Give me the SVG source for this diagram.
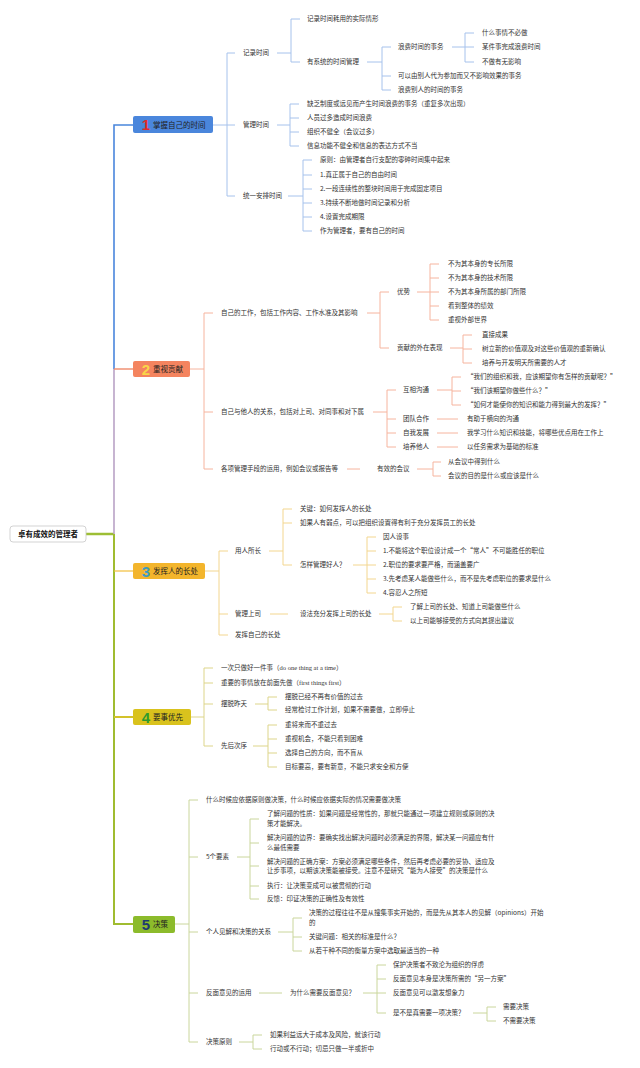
<svg xmlns="http://www.w3.org/2000/svg" width="640" height="1068" viewBox="0 0 640 1068">
<style>
.t{font-family:"Noto Sans CJK SC","Noto Sans",sans-serif;font-size:6.5px;fill:#333}
.bx{font-family:"Noto Sans CJK SC","Noto Sans",sans-serif;font-size:7.5px;fill:#222}
.rt{font-family:"Noto Sans CJK SC","Noto Sans",sans-serif;font-size:7.5px;font-weight:bold;fill:#111}
.num{font-family:"Liberation Sans",Arial,sans-serif;font-size:15px;font-weight:bold}
.lat{font-family:"Liberation Serif","Times New Roman",serif}
path{fill:none}
.c1{stroke:#A6C2EC;stroke-width:1}
.c2{stroke:#F6B49E;stroke-width:1}
.c3{stroke:#F3D68F;stroke-width:1}
.c4{stroke:#DDD58A;stroke-width:1}
.c5{stroke:#CAD69C;stroke-width:1}
</style>
<rect x="0" y="0" width="640" height="1068" fill="#ffffff"/>
<g id="connectors">
  <path d="M86,534H114" stroke="#9DBE35" stroke-width="2.5"/>
  <path d="M114,369V125H133" stroke="#4A86DC" stroke-width="1.6"/>
  <path d="M114,534V369" stroke="#B9A2C6" stroke-width="1.6"/>
  <path d="M114,369H133" stroke="#F08A6A" stroke-width="1.4"/>
  <path d="M114,534V924H133" stroke="#A0BC30" stroke-width="2"/>
  <path d="M114,571H133" stroke="#F2BE3A" stroke-width="1.2"/>
  <path d="M114,717H133" stroke="#D3C22A" stroke-width="2"/>
  <!-- section 1 -->
  <path class="c1" d="M213,125H227M227,53V196M227,53H235M227,125H235M227,196H235
  M277,53H291M291,19V62M291,19H300M291,62H300
  M367,62H382M382,47V90M382,47H391M382,76H391M382,90H391
  M452,47H465M465,33V62M465,33H474M465,47H474M465,62H474
  M277,125H290M290,104V146M290,104H299M290,118H299M290,132H299M290,146H299
  M288,196H303M303,160V231M303,160H312M303,175H312M303,189H312M303,203H312M303,217H312M303,231H312"/>
  <!-- section 2 -->
  <path class="c2" d="M190,369H204M204,313V469M204,313H213M204,412H213M204,469H213
  M367,313H380M380,292V348M380,292H389M380,348H389
  M417,292H430M430,264V320M430,264H439M430,278H439M430,292H439M430,306H439M430,320H439
  M450,348H463M463,335V363M463,335H472M463,349H472M463,363H472
  M373,412H387M387,390V447M387,390H396M387,419H396M387,433H396M387,447H396
  M437,390H452M452,377V405M452,377H461M452,391H461M452,405H461
  M437,419H458M437,433H458M437,447H458
  M347,469H360
  M417,469H433M433,462V476M433,462H441M433,476H441"/>
  <!-- section 3 -->
  <path class="c3" d="M205,571H219M219,551V635M219,551H228M219,614H228M219,635H228
  M269,551H283M283,509V565M283,509H292M283,523H292M283,565H292
  M353,565H367M367,537V593M367,537H376M367,551H376M367,565H376M367,579H376M367,593H376
  M270,614H288
  M379,614H393M393,607V621M393,607H402M393,621H402"/>
  <!-- section 4 -->
  <path class="c4" d="M191,717H204M204,668V746M204,668H213M204,683H213M204,704H213M204,746H213
  M255,704H268M268,697V710M268,697H277M268,710H277
  M253,746H268M268,725V767M268,725H277M268,739H277M268,753H277M268,767H277"/>
  <!-- section 5 -->
  <path class="c5" d="M175,924H189M189,800V1042M189,800H198M189,857H198M189,932H198M189,993H198M189,1042H198
  M237,857H250M250,819V899M250,819H259M250,843H259M250,866H259M250,886H259M250,899H259
  M278,932H293M293,918V951M293,918H302M293,937H302M293,951H302
  M259,993H282
  M363,993H377M377,965V1013M377,965H386M377,979H386M377,993H386M377,1013H386
  M473,1013H487M487,1007V1021M487,1007H496M487,1021H496
  M239,1042H253M253,1035V1049M253,1035H262M253,1049H262"/>
</g>

<g id="root">
  <rect x="10" y="526" width="76" height="16" rx="3" fill="#ffffff" stroke="#C8C8C8" stroke-width="0.8"/>
  <text class="rt" x="48" y="536.8" text-anchor="middle">卓有成效的管理者</text>
</g>

<!-- Section 1 -->
<g id="s1">
  <rect x="133" y="116" width="80" height="17" rx="2" fill="#4A86DC"/>
  <text class="num" x="146" y="130" text-anchor="middle" fill="#E02A2A">1</text>
  <text class="bx" x="153" y="127.8">掌握自己的时间</text>
</g>
<g id="s1-1"><text class="t" x="243" y="55.4">记录时间</text></g>
<g id="s1-1-1"><text class="t" x="307" y="21.4">记录时间耗用的实际情形</text></g>
<g id="s1-1-2"><text class="t" x="307" y="64.4">有系统的时间管理</text></g>
<g id="s1-1-2-1"><text class="t" x="398" y="49.4">浪费时间的事务</text></g>
<g id="s1-1-2-1-1"><text class="t" x="482" y="35.4">什么事情不必做</text></g>
<g id="s1-1-2-1-2"><text class="t" x="482" y="49.4">某件事完成浪费时间</text></g>
<g id="s1-1-2-1-3"><text class="t" x="482" y="64.4">不做有无影响</text></g>
<g id="s1-1-2-2"><text class="t" x="398" y="78.4">可以由别人代为参加而又不影响效果的事务</text></g>
<g id="s1-1-2-3"><text class="t" x="398" y="92.4">浪费别人的时间的事务</text></g>
<g id="s1-2"><text class="t" x="243" y="127.4">管理时间</text></g>
<g id="s1-2-1"><text class="t" x="307" y="106.4">缺乏制度或远见而产生时间浪费的事务（重复多次出现）</text></g>
<g id="s1-2-2"><text class="t" x="307" y="120.4">人员过多造成时间浪费</text></g>
<g id="s1-2-3"><text class="t" x="307" y="134.4">组织不健全（会议过多）</text></g>
<g id="s1-2-4"><text class="t" x="307" y="148.4">信息功能不健全和信息的表达方式不当</text></g>
<g id="s1-3"><text class="t" x="243" y="198.4">统一安排时间</text></g>
<g id="s1-3-1"><text class="t" x="320" y="162.4">原则：由管理者自行支配的零碎时间集中起来</text></g>
<g id="s1-3-2"><text class="t" x="320" y="177.4">1.真正属于自己的自由时间</text></g>
<g id="s1-3-3"><text class="t" x="320" y="191.4">2.一段连续性的整块时间用于完成固定项目</text></g>
<g id="s1-3-4"><text class="t" x="320" y="205.4">3.持续不断地做时间记录和分析</text></g>
<g id="s1-3-5"><text class="t" x="320" y="219.4">4.设置完成期限</text></g>
<g id="s1-3-6"><text class="t" x="320" y="233.4">作为管理者，要有自己的时间</text></g>

<!-- Section 2 -->
<g id="s2">
  <rect x="133" y="361" width="57" height="16" rx="2" fill="#F4845F"/>
  <text class="num" x="146" y="374.5" text-anchor="middle" fill="#F9D648">2</text>
  <text class="bx" x="153" y="371.8">重视贡献</text>
</g>
<g id="s2-1"><text class="t" x="221" y="315.4">自己的工作，包括工作内容、工作水准及其影响</text></g>
<g id="s2-1-1"><text class="t" x="397" y="294.4">优势</text></g>
<g id="s2-1-1-1"><text class="t" x="448" y="266.4">不为其本身的专长所限</text></g>
<g id="s2-1-1-2"><text class="t" x="448" y="280.4">不为其本身的技术所限</text></g>
<g id="s2-1-1-3"><text class="t" x="448" y="294.4">不为其本身所属的部门所限</text></g>
<g id="s2-1-1-4"><text class="t" x="448" y="308.4">看到整体的绩效</text></g>
<g id="s2-1-1-5"><text class="t" x="448" y="322.4">重视外部世界</text></g>
<g id="s2-1-2"><text class="t" x="397" y="350.4">贡献的外在表现</text></g>
<g id="s2-1-2-1"><text class="t" x="482" y="337.4">直接成果</text></g>
<g id="s2-1-2-2"><text class="t" x="482" y="351.4">树立新的价值观及对这些价值观的重新确认</text></g>
<g id="s2-1-2-3"><text class="t" x="482" y="365.4">培养与开发明天所需要的人才</text></g>
<g id="s2-2"><text class="t" x="221" y="414.4">自己与他人的关系，包括对上司、对同事和对下属</text></g>
<g id="s2-2-1"><text class="t" x="403" y="392.4">互相沟通</text></g>
<g id="s2-2-1-1"><text class="t" x="467" y="379.4">“我们的组织和我，应该期望你有怎样的贡献呢？”</text></g>
<g id="s2-2-1-2"><text class="t" x="467" y="393.4">“我们该期望你做些什么？”</text></g>
<g id="s2-2-1-3"><text class="t" x="467" y="407.4">“如何才能使你的知识和能力得到最大的发挥？”</text></g>
<g id="s2-2-2"><text class="t" x="403" y="421.4">团队合作</text></g>
<g id="s2-2-2-1"><text class="t" x="467" y="421.4">有助于横向的沟通</text></g>
<g id="s2-2-3"><text class="t" x="403" y="435.4">自我发展</text></g>
<g id="s2-2-3-1"><text class="t" x="467" y="435.4">我学习什么知识和技能，将哪些优点用在工作上</text></g>
<g id="s2-2-4"><text class="t" x="403" y="449.4">培养他人</text></g>
<g id="s2-2-4-1"><text class="t" x="467" y="449.4">以任务需求为基础的标准</text></g>
<g id="s2-3"><text class="t" x="221" y="471.4">各项管理手段的运用，例如会议或报告等</text></g>
<g id="s2-3-1"><text class="t" x="377" y="471.4">有效的会议</text></g>
<g id="s2-3-1-1"><text class="t" x="448" y="464.4">从会议中得到什么</text></g>
<g id="s2-3-1-2"><text class="t" x="448" y="478.4">会议的目的是什么或应该是什么</text></g>

<!-- Section 3 -->
<g id="s3">
  <rect x="133" y="563" width="72" height="16" rx="2" fill="#F3B52C"/>
  <text class="num" x="146" y="576.5" text-anchor="middle" fill="#3C9BC0">3</text>
  <text class="bx" x="153" y="573.8">发挥人的长处</text>
</g>
<g id="s3-1"><text class="t" x="235" y="553.4">用人所长</text></g>
<g id="s3-1-1"><text class="t" x="300" y="511.4">关键：如何发挥人的长处</text></g>
<g id="s3-1-2"><text class="t" x="300" y="525.4">如果人有弱点，可以把组织设置得有利于充分发挥员工的长处</text></g>
<g id="s3-1-3"><text class="t" x="300" y="567.4">怎样管理好人？</text></g>
<g id="s3-1-3-1"><text class="t" x="383" y="539.4">因人设事</text></g>
<g id="s3-1-3-2"><text class="t" x="383" y="553.4">1.不能将这个职位设计成一个“常人”不可能胜任的职位</text></g>
<g id="s3-1-3-3"><text class="t" x="383" y="567.4">2.职位的要求要严格，而涵盖要广</text></g>
<g id="s3-1-3-4"><text class="t" x="383" y="581.4">3.先考虑某人能做些什么，而不是先考虑职位的要求是什么</text></g>
<g id="s3-1-3-5"><text class="t" x="383" y="595.4">4.容忍人之所短</text></g>
<g id="s3-2"><text class="t" x="235" y="616.4">管理上司</text></g>
<g id="s3-2-1"><text class="t" x="300" y="616.4">设法充分发挥上司的长处</text></g>
<g id="s3-2-1-1"><text class="t" x="410" y="609.4">了解上司的长处、知道上司能做些什么</text></g>
<g id="s3-2-1-2"><text class="t" x="410" y="623.4">以上司能够接受的方式向其提出建议</text></g>
<g id="s3-3"><text class="t" x="235" y="637.4">发挥自己的长处</text></g>

<!-- Section 4 -->
<g id="s4">
  <rect x="133" y="709" width="58" height="16" rx="2" fill="#D9C21D"/>
  <text class="num" x="146" y="722.5" text-anchor="middle" fill="#2E9A2E">4</text>
  <text class="bx" x="153" y="719.8">要事优先</text>
</g>
<g id="s4-1"><text class="t" x="221" y="670.4">一次只做好一件事（<tspan class="lat">do one thing at a time</tspan>）</text></g>
<g id="s4-2"><text class="t" x="221" y="685.4">重要的事情放在前面先做（<tspan class="lat">first things first</tspan>）</text></g>
<g id="s4-3"><text class="t" x="221" y="706.4">摆脱昨天</text></g>
<g id="s4-3-1"><text class="t" x="285" y="699.4">摆脱已经不再有价值的过去</text></g>
<g id="s4-3-2"><text class="t" x="285" y="712.4">经常检讨工作计划，如果不需要做，立即停止</text></g>
<g id="s4-4"><text class="t" x="221" y="748.4">先后次序</text></g>
<g id="s4-4-1"><text class="t" x="285" y="727.4">重将来而不重过去</text></g>
<g id="s4-4-2"><text class="t" x="285" y="741.4">重视机会，不能只看到困难</text></g>
<g id="s4-4-3"><text class="t" x="285" y="755.4">选择自己的方向，而不盲从</text></g>
<g id="s4-4-4"><text class="t" x="285" y="769.4">目标要高，要有新意，不能只求安全和方便</text></g>

<!-- Section 5 -->
<g id="s5">
  <rect x="133" y="916" width="42" height="17" rx="2" fill="#8CBB2B"/>
  <text class="num" x="146" y="930" text-anchor="middle" fill="#1E3A70">5</text>
  <text class="bx" x="153" y="927.3">决策</text>
</g>
<g id="s5-1"><text class="t" x="206" y="802.4">什么时候应依据原则做决策，什么时候应依据实际的情况需要做决策</text></g>
<g id="s5-2"><text class="t" x="206" y="859.4">5个要素</text></g>
<g id="s5-2-1"><text class="t" x="267" y="816.4">了解问题的性质：如果问题是经常性的，那就只能通过一项建立规则或原则的决</text><text class="t" x="267" y="826.4">策才能解决。</text></g>
<g id="s5-2-2"><text class="t" x="267" y="840.4">解决问题的边界：要确实找出解决问题时必须满足的界限，解决某一问题应有什</text><text class="t" x="267" y="850.4">么最低需要</text></g>
<g id="s5-2-3"><text class="t" x="267" y="864.4">解决问题的正确方案：方案必须满足哪些条件，然后再考虑必要的妥协、适应及</text><text class="t" x="267" y="873.4">让步事项，以期该决策能被接受。注意不是研究“能为人接受”的决策是什么</text></g>
<g id="s5-2-4"><text class="t" x="267" y="888.4">执行：让决策变成可以被贯彻的行动</text></g>
<g id="s5-2-5"><text class="t" x="267" y="901.4">反馈：印证决策的正确性及有效性</text></g>
<g id="s5-3"><text class="t" x="206" y="934.4">个人见解和决策的关系</text></g>
<g id="s5-3-1"><text class="t" x="309" y="915.4">决策的过程往往不是从搜集事实开始的，而是先从其本人的见解（opinions）开始</text><text class="t" x="309" y="925.4">的</text></g>
<g id="s5-3-2"><text class="t" x="309" y="939.4">关键问题：相关的标准是什么？</text></g>
<g id="s5-3-3"><text class="t" x="309" y="953.4">从若干种不同的衡量方案中选取最适当的一种</text></g>
<g id="s5-4"><text class="t" x="206" y="995.4">反面意见的运用</text></g>
<g id="s5-4-1"><text class="t" x="290" y="995.4">为什么需要反面意见？</text></g>
<g id="s5-4-1-1"><text class="t" x="393" y="967.4">保护决策者不致沦为组织的俘虏</text></g>
<g id="s5-4-1-2"><text class="t" x="393" y="981.4">反面意见本身是决策所需的“另一方案”</text></g>
<g id="s5-4-1-3"><text class="t" x="393" y="995.4">反面意见可以激发想象力</text></g>
<g id="s5-4-1-4"><text class="t" x="393" y="1015.4">是不是真需要一项决策？</text></g>
<g id="s5-4-1-4-1"><text class="t" x="503" y="1009.4">需要决策</text></g>
<g id="s5-4-1-4-2"><text class="t" x="503" y="1023.4">不需要决策</text></g>
<g id="s5-5"><text class="t" x="206" y="1044.4">决策原则</text></g>
<g id="s5-5-1"><text class="t" x="270" y="1037.4">如果利益远大于成本及风险，就该行动</text></g>
<g id="s5-5-2"><text class="t" x="270" y="1051.4">行动或不行动；切忌只做一半或折中</text></g>
</svg>
